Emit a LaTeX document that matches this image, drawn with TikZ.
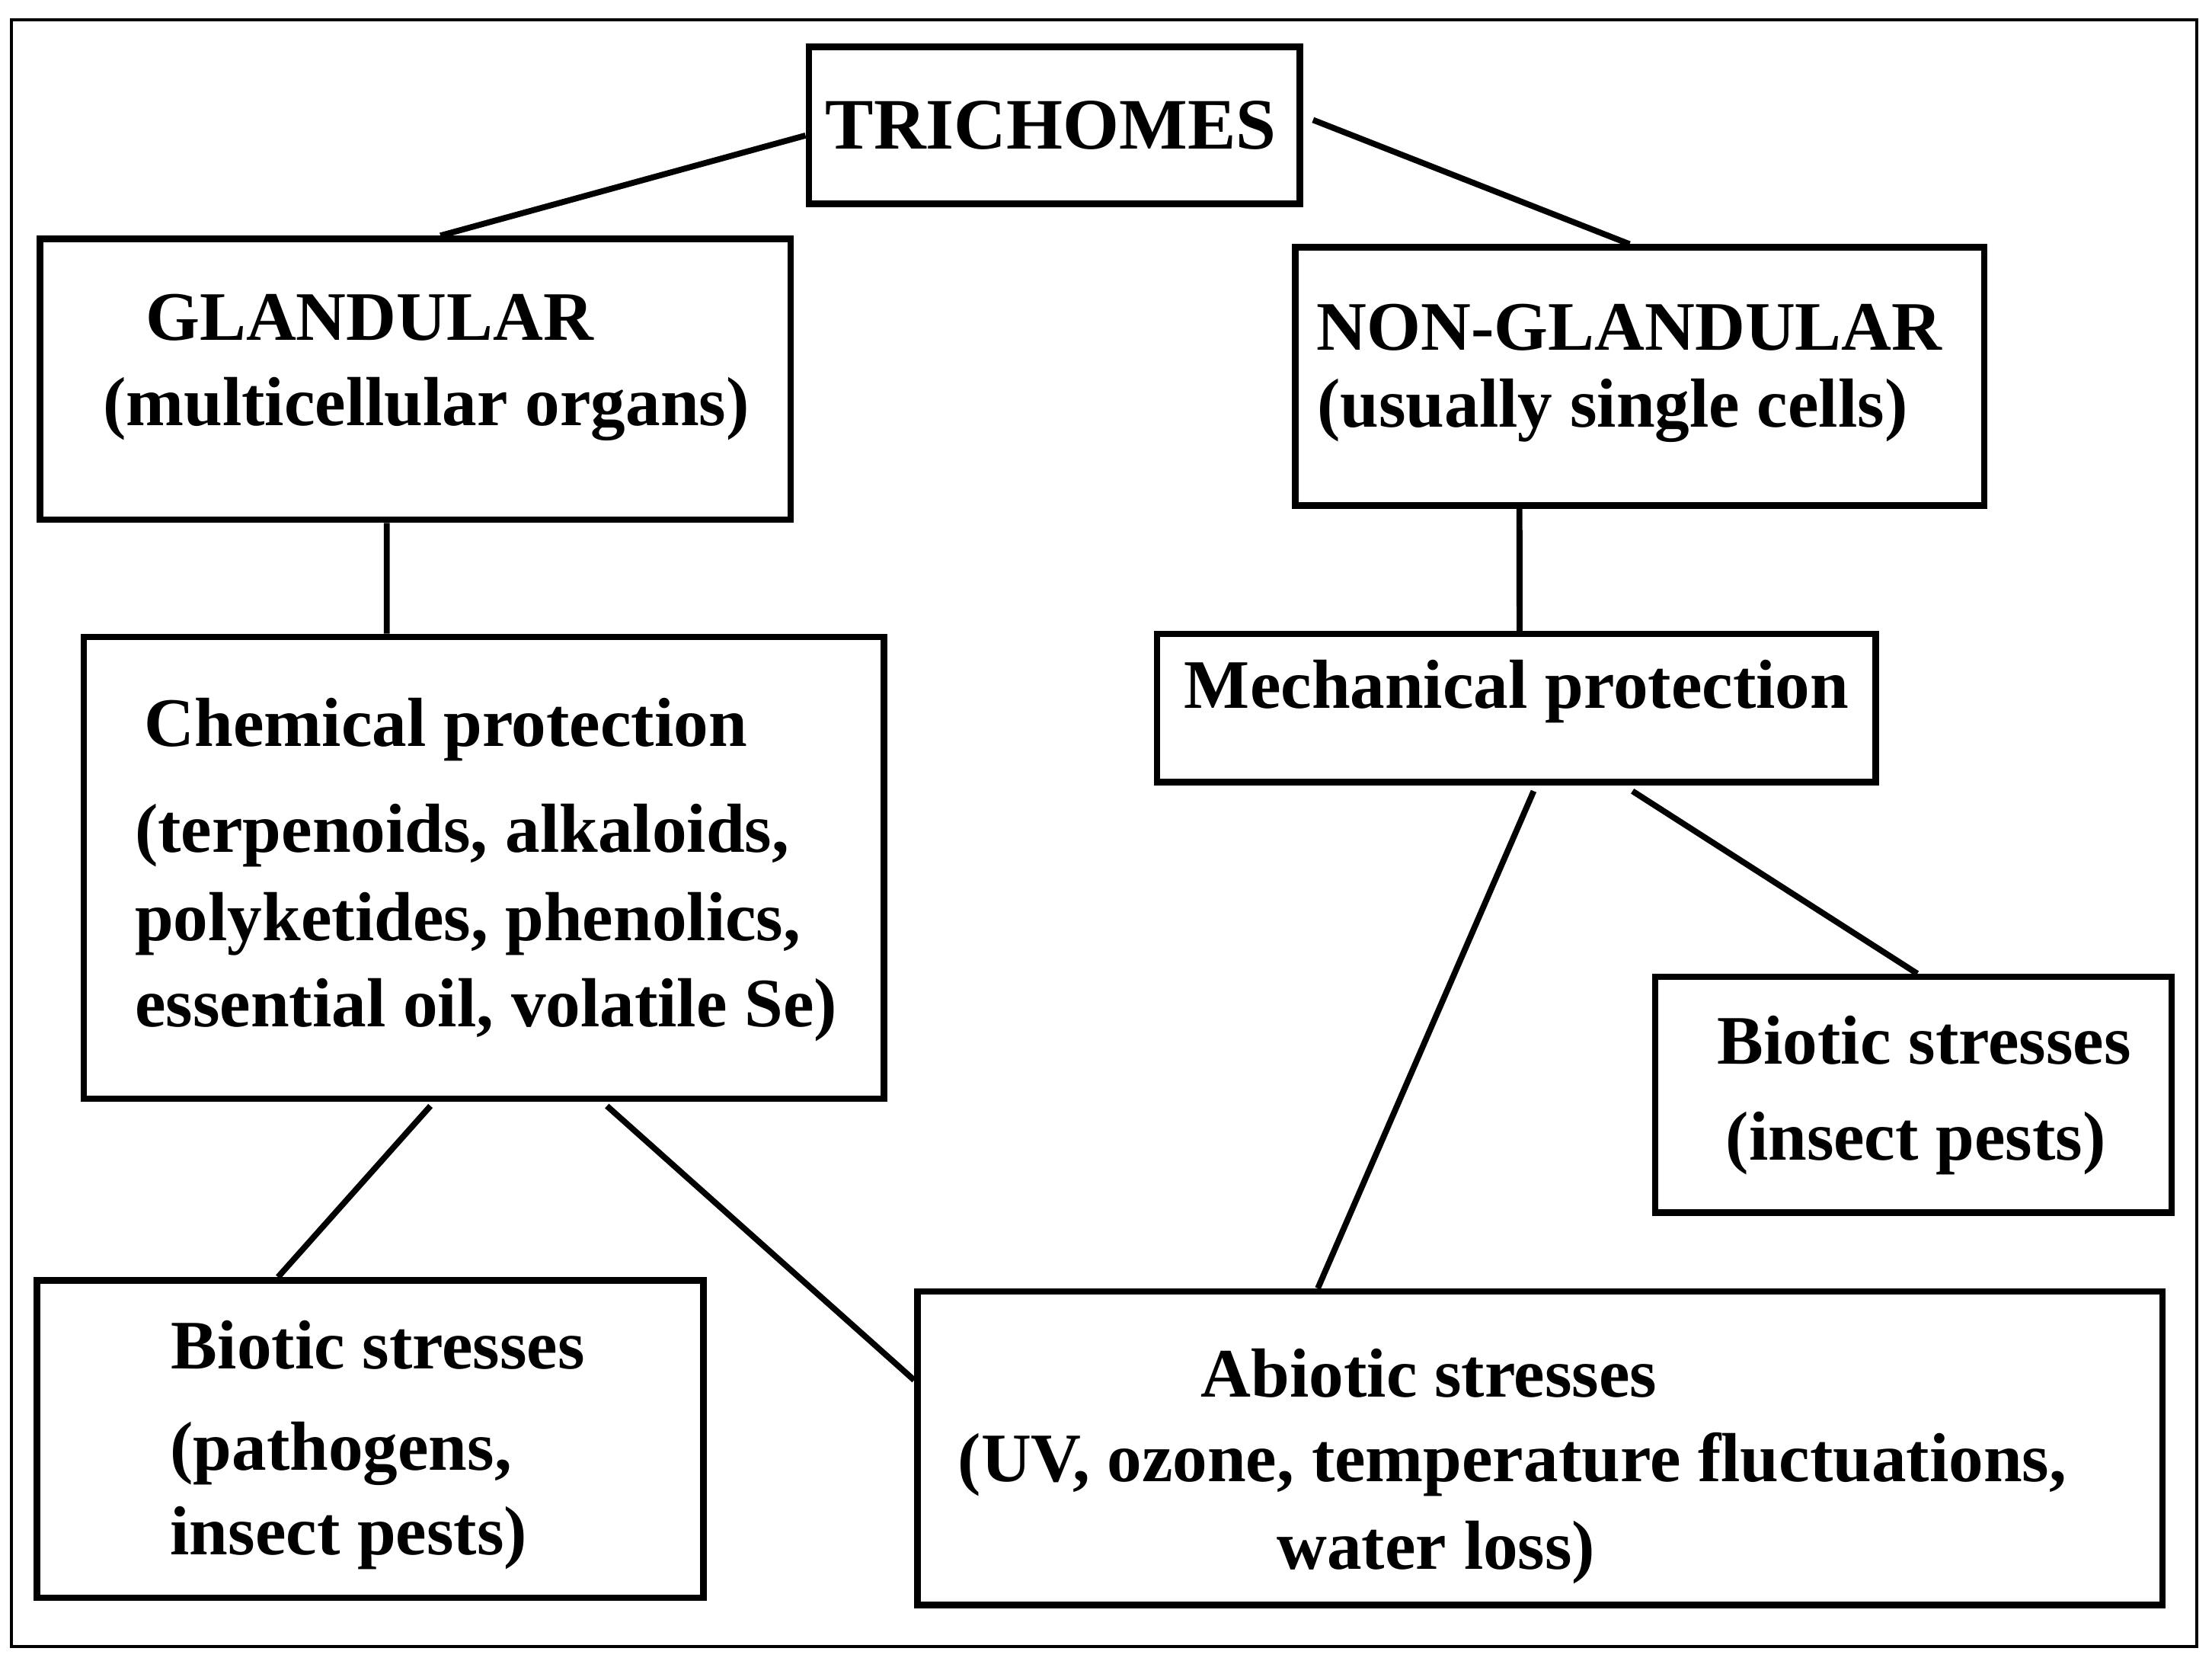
\documentclass[tikz,border=0pt]{standalone}
\usepackage{fontspec}
\setmainfont{Liberation Serif}
\begin{document}
\begin{tikzpicture}[x=0.01cm,y=-0.01cm,
  box/.style={draw,line width=1.3pt,inner sep=0pt,anchor=north west},
  t/.style={font=\bfseries\fontsize{14}{17}\selectfont,inner sep=0pt},
  ln/.style={line width=1.2pt}]
\useasboundingbox (0,0) rectangle (1568,1177);
\draw[line width=0.6pt] (8,14) rectangle (1557,1167);
\node[box,minimum width=3.48cm,minimum height=1.11cm] (tri) at (571,31) {};
\node[t,font=\bfseries\fontsize{14.6}{18}\selectfont] (tri-t) at (745,89) {TRICHOMES};
\node[box,minimum width=5.32cm,minimum height=1.99cm] (gl) at (26,167) {};
\node[t] (gl-a) at (262,225) {GLANDULAR};
\node[t] (gl-b) at (302,290) {(multicellular organs)};
\node[box,minimum width=4.88cm,minimum height=1.83cm] (ng) at (916,173) {};
\node[t] (ng-a) at (1155,232) {NON-GLANDULAR};
\node[t] (ng-b) at (1143,291) {(usually single cells)};
\node[box,minimum width=5.67cm,minimum height=3.27cm] (ch) at (57,449) {};
\node[t] (ch-a) at (316,517) {Chemical protection};
\node[t,anchor=west] (ch-b) at (95,592) {(terpenoids, alkaloids,};
\node[t,anchor=west] (ch-c) at (95,655) {polyketides, phenolics,};
\node[t,anchor=west] (ch-d) at (95,716) {essential oil, volatile Se)};
\node[box,minimum width=5.09cm,minimum height=1.05cm] (me) at (818,447) {};
\node[t] (me-a) at (1075,490) {Mechanical protection};
\node[box,minimum width=3.66cm,minimum height=1.67cm] (br) at (1171,690) {};
\node[t] (br-a) at (1364,737) {Biotic stresses};
\node[t] (br-b) at (1358,810) {(insect pests)};
\node[box,minimum width=4.72cm,minimum height=2.25cm] (bl) at (24,905) {};
\node[t] (bl-a) at (268,953) {Biotic stresses};
\node[t,anchor=west] (bl-b) at (120,1030) {(pathogens,};
\node[t,anchor=west] (bl-c) at (120,1090) {insect pests)};
\node[box,minimum width=8.82cm,minimum height=2.22cm] (ab) at (648,913) {};
\node[t] (ab-a) at (1013,973) {Abiotic stresses};
\node[t] (ab-b) at (1072,1038) {(UV, ozone, temperature fluctuations,};
\node[t] (ab-c) at (1018,1100) {water loss)};
\draw[ln] ([yshift=-0.65cm]tri.north west) -- ([xshift=2.86cm]gl.north west);
\draw[ln] ([xshift=0.07cm,yshift=-0.54cm]tri.north east) -- ([xshift=2.39cm]ng.north west);
\draw[ln] ([xshift=2.48cm]gl.south west) -- ([xshift=2.17cm]ch.north west);
\draw[ln] ([xshift=1.61cm]ng.south west) -- ([xshift=2.59cm]me.north west);
\draw[ln] ([xshift=2.48cm,yshift=-0.03cm]ch.south west) -- ([xshift=1.73cm]bl.north west);
\draw[ln] ([xshift=3.73cm,yshift=-0.03cm]ch.south west) -- ([yshift=-0.65cm]ab.north west);
\draw[ln] ([xshift=2.69cm,yshift=-0.04cm]me.south west) -- ([xshift=2.86cm]ab.north west);
\draw[ln] ([xshift=3.39cm,yshift=-0.04cm]me.south west) -- ([xshift=1.88cm]br.north west);
\end{tikzpicture}
\end{document}
